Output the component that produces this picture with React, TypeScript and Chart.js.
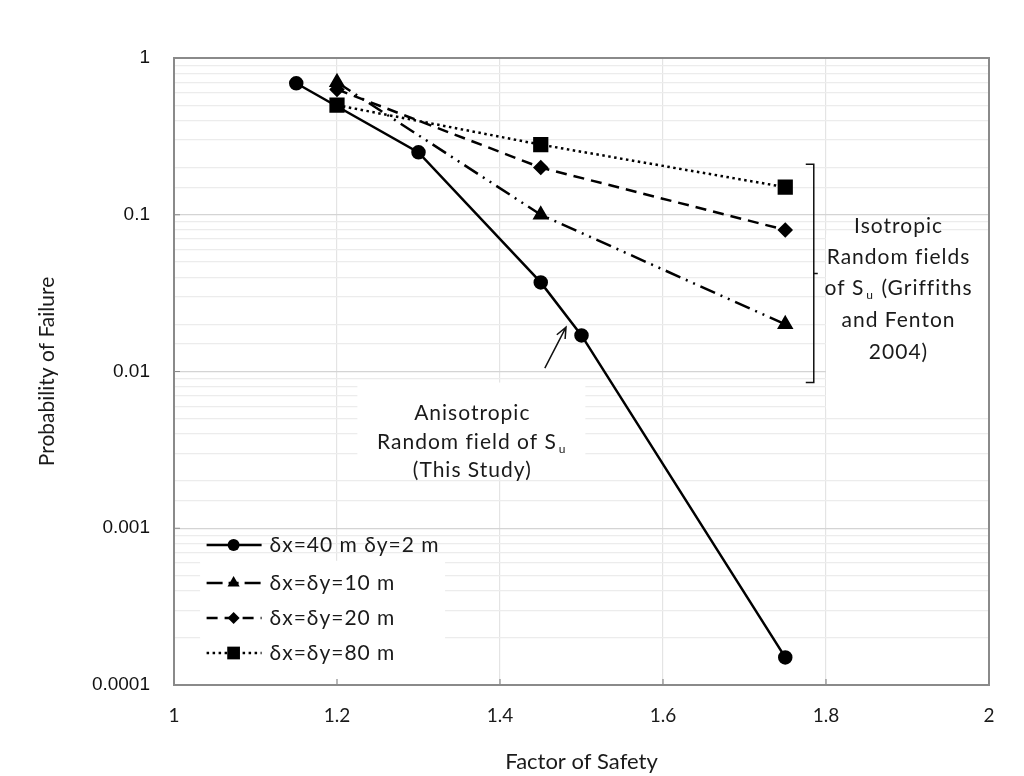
import { useEffect, useRef } from "react";
import { Chart, registerables } from "chart.js";
Chart.register(...registerables);

const fosAniso = [1.15, 1.3, 1.45, 1.5, 1.75];
const pfAniso = [0.69, 0.25, 0.037, 0.017, 0.00015];
const fosIso = [1.2, 1.45, 1.75];
const pfIso10 = [0.7, 0.1, 0.02];
const pfIso20 = [0.63, 0.2, 0.08];
const pfIso80 = [0.5, 0.28, 0.15];
const seriesLabels = ["δx=40 m δy=2 m", "δx=δy=10 m", "δx=δy=20 m", "δx=δy=80 m"];
const xTickValues = [1, 1.2, 1.4, 1.6, 1.8, 2];
const yMajorTicks = [1, 0.1, 0.01, 0.001, 0.0001];
const yTickLabels = ["1", "0.1", "0.01", "0.001", "0.0001"];
const xTitle = "Factor of Safety";
const yTitle = "Probability of Failure";
const anisoNote = ["Anisotropic", "Random field of S", "(This Study)"];
const isoNote = ["Isotropic", "Random fields", "of S", "and Fenton", "2004)"];
const subscript = "u";
const isoAfterSub = " (Griffiths";

const TXT = "#1a1a1a";
const annoFont = "21px Lato, 'Noto Sans', sans-serif";

function marker(ctx: CanvasRenderingContext2D, style: string, r: number, x: number, y: number) {
  ctx.beginPath();
  if (style === "circle") {
    ctx.arc(x, y, r, 0, Math.PI * 2);
  } else if (style === "triangle") {
    ctx.moveTo(x, y - r);
    ctx.lineTo(x + r * Math.cos(Math.PI / 6), y + r * 0.5);
    ctx.lineTo(x - r * Math.cos(Math.PI / 6), y + r * 0.5);
    ctx.closePath();
  } else if (style === "rectRot") {
    ctx.moveTo(x, y - r);
    ctx.lineTo(x + r, y);
    ctx.lineTo(x, y + r);
    ctx.lineTo(x - r, y);
    ctx.closePath();
  } else {
    const s = Math.SQRT1_2 * r;
    ctx.rect(x - s, y - s, 2 * s, 2 * s);
  }
  ctx.fillStyle = "#000";
  ctx.fill();
}

function drawSub(ctx: CanvasRenderingContext2D, before: string, after: string, cx: number, y: number) {
  ctx.font = annoFont;
  const w1 = ctx.measureText(before).width;
  ctx.font = "12px Lato, sans-serif";
  const ws = ctx.measureText(subscript).width + 3;
  ctx.font = annoFont;
  const w2 = ctx.measureText(after).width;
  const total = w1 + ws + w2;
  let x = cx - total / 2;
  ctx.textAlign = "left";
  ctx.textBaseline = "middle";
  ctx.fillText(before, x, y);
  x += w1 + 2;
  ctx.font = "12px Lato, sans-serif";
  ctx.fillText(subscript, x, y + 7);
  x += ws - 2;
  ctx.font = annoFont;
  if (after) ctx.fillText(after, x, y);
}

const overlay = {
  id: "overlay",
  beforeDatasetsDraw(chart: any) {
    const { ctx, scales } = chart;
    const xs = scales.x, ys = scales.y;
    ctx.save();
    ctx.fillStyle = "#fff";
    ctx.fillRect(xs.getPixelForValue(1.032), ys.getPixelForValue(0.00062), 245, 140);
    ctx.fillRect(xs.getPixelForValue(1.225), ys.getPixelForValue(0.0085), 228, 92);
    ctx.fillRect(xs.getPixelForValue(1.8), ys.getPixelForValue(0.075), 170, 175);
    ctx.restore();
  },
  afterDatasetsDraw(chart: any) {
    const { ctx, scales, chartArea: a } = chart;
    const xs = scales.x, ys = scales.y;
    ctx.save();
    ctx.strokeStyle = "#8a8a8a";
    ctx.lineWidth = 2;
    ctx.strokeRect(a.left, a.top, a.right - a.left, a.bottom - a.top);
    ctx.lineWidth = 1.2;
    ctx.beginPath();
    yMajorTicks.forEach((v) => {
      const y = ys.getPixelForValue(v);
      ctx.moveTo(a.left, y);
      ctx.lineTo(a.left + 6, y);
    });
    xTickValues.forEach((v) => {
      const x = xs.getPixelForValue(v);
      ctx.moveTo(x, a.bottom);
      ctx.lineTo(x, a.bottom - 6);
    });
    ctx.stroke();

    (ctx as any).letterSpacing = "1px";
    ctx.fillStyle = TXT;
    ctx.strokeStyle = "#111";
    const ax = xs.getPixelForValue(1.366);
    ctx.font = annoFont;
    ctx.textAlign = "center";
    ctx.textBaseline = "middle";
    ctx.fillText(anisoNote[0], ax, 413);
    drawSub(ctx, anisoNote[1], "", ax, 442);
    ctx.textAlign = "center";
    ctx.fillText(anisoNote[2], ax, 470);
    const tx = xs.getPixelForValue(1.481), ty = ys.getPixelForValue(0.0192);
    const sx = xs.getPixelForValue(1.455), sy = ys.getPixelForValue(0.0105);
    ctx.lineWidth = 1.5;
    ctx.beginPath();
    ctx.moveTo(sx, sy);
    ctx.lineTo(tx, ty);
    const ang = Math.atan2(ty - sy, tx - sx);
    ctx.moveTo(tx - 12 * Math.cos(ang - 0.4), ty - 12 * Math.sin(ang - 0.4));
    ctx.lineTo(tx, ty);
    ctx.lineTo(tx - 12 * Math.cos(ang + 0.4), ty - 12 * Math.sin(ang + 0.4));
    ctx.stroke();

    const bx = xs.getPixelForValue(1.785);
    const bt = ys.getPixelForValue(0.21), bb = ys.getPixelForValue(0.0085);
    ctx.beginPath();
    ctx.moveTo(bx - 8, bt);
    ctx.lineTo(bx, bt);
    ctx.lineTo(bx, bb);
    ctx.lineTo(bx - 8, bb);
    const bm = (bt + bb) / 2;
    ctx.moveTo(bx, bm);
    ctx.lineTo(bx + 4, bm);
    ctx.stroke();

    const ix = xs.getPixelForValue(1.889);
    ctx.font = annoFont;
    ctx.textAlign = "center";
    ctx.fillText(isoNote[0], ix, 226);
    ctx.fillText(isoNote[1], ix, 257);
    drawSub(ctx, isoNote[2], isoAfterSub, ix, 288);
    ctx.textAlign = "center";
    ctx.fillText(isoNote[3], ix, 320);
    ctx.fillText(isoNote[4], ix, 352);

    const lx0 = xs.getPixelForValue(1.04);
    const rows = [545, 583, 618, 653];
    chart.data.datasets.forEach((ds: any, i: number) => {
      const y = rows[i];
      ctx.save();
      ctx.strokeStyle = "#000";
      ctx.lineWidth = ds.borderWidth;
      ctx.setLineDash(ds.borderDash || []);
      ctx.beginPath();
      ctx.moveTo(lx0, y);
      ctx.lineTo(lx0 + 55, y);
      ctx.stroke();
      ctx.restore();
      marker(ctx, ds.pointStyle, ds.pointRadius, lx0 + 27, y);
      ctx.fillStyle = TXT;
      ctx.font = annoFont;
      ctx.textAlign = "left";
      ctx.textBaseline = "middle";
      ctx.fillText(ds.label, lx0 + 63, y);
    });
    ctx.restore();
  },
};

export default function App() {
  const ref = useRef<HTMLCanvasElement>(null);
  useEffect(() => {
    document.body.style.margin = "0";
    const common = { borderColor: "#000", backgroundColor: "#000", pointBackgroundColor: "#000", pointBorderColor: "#000", borderWidth: 2.5, showLine: true, fill: false, tension: 0 };
    const chart = new Chart(ref.current!, {
      type: "scatter",
      data: {
        datasets: [
          { ...common, label: seriesLabels[0], data: fosAniso.map((x, i) => ({ x, y: pfAniso[i] })), pointStyle: "circle", pointRadius: 6 },
          { ...common, label: seriesLabels[1], data: fosIso.map((x, i) => ({ x, y: pfIso10[i] })), pointStyle: "triangle", pointRadius: 7, borderDash: [16, 6, 2, 6, 2, 6] },
          { ...common, label: seriesLabels[2], data: fosIso.map((x, i) => ({ x, y: pfIso20[i] })), pointStyle: "rectRot", pointRadius: 6, borderDash: [11, 7] },
          { ...common, label: seriesLabels[3], data: fosIso.map((x, i) => ({ x, y: pfIso80[i] })), pointStyle: "rect", pointRadius: 9, borderDash: [2.5, 3.5] },
        ] as any,
      },
      options: {
        responsive: false,
        animation: false,
        layout: { padding: { top: 58, right: 35, left: 0, bottom: 0 } },
        plugins: { legend: { display: false }, tooltip: { enabled: false } },
        scales: {
          x: {
            type: "linear",
            min: 1,
            max: 2,
            afterBuildTicks: (s: any) => { s.ticks = xTickValues.map((v) => ({ value: v })); },
            afterFit: (s: any) => { s.height = 91; },
            ticks: { padding: 19, color: TXT, font: { family: "Lato", size: 19 }, callback: (v: any) => String(Number(Number(v).toFixed(1))) },
            grid: { color: "#e4e4e4", lineWidth: 1.2, drawTicks: false },
            border: { display: false },
            title: { display: true, text: xTitle, color: TXT, font: { family: "Lato", size: 22 }, padding: { top: 0, bottom: 1 } },
          },
          y: {
            type: "logarithmic",
            min: 0.0001,
            max: 1,
            afterFit: (s: any) => { s.width = 174; },
            ticks: {
              autoSkip: false,
              padding: 24,
              color: "#111",
              font: { family: "'Liberation Sans'", size: 19 },
              callback: (v: any) => {
                const idx = yMajorTicks.findIndex((m) => Math.abs(Math.log10(m) - Math.log10(Number(v))) < 1e-6);
                return idx >= 0 ? yTickLabels[idx] : "";
              },
            },
            grid: {
              drawTicks: false,
              lineWidth: 1.2,
              color: (c: any) => {
                const v = c.tick ? c.tick.value : 1;
                const l = Math.log10(v);
                return Math.abs(l - Math.round(l)) < 1e-6 ? "#d4d4d4" : "#ececec";
              },
            },
            border: { display: false },
            title: { display: true, text: yTitle, color: TXT, font: { family: "Lato", size: 21 }, padding: { top: 35, bottom: 0 } },
          },
        },
      },
      plugins: [overlay],
    } as any);
    return () => chart.destroy();
  }, []);
  return <canvas ref={ref} width={1024} height={776} style={{ display: "block" }} />;
}
